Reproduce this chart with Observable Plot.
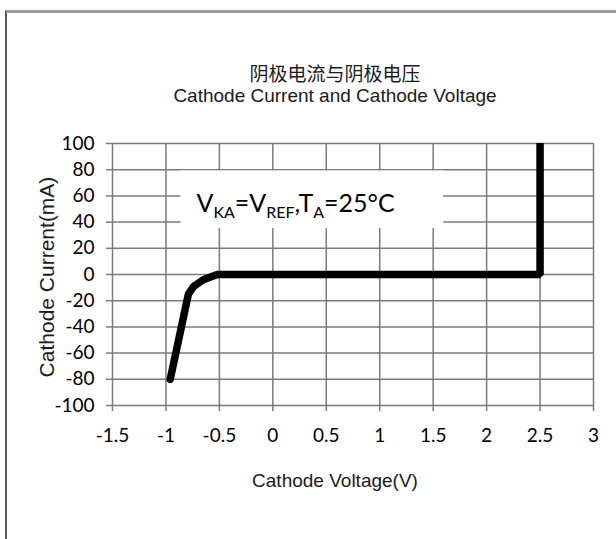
<!DOCTYPE html>
<html><head><meta charset="utf-8">
<script src="https://cdn.jsdelivr.net/npm/d3@7"></script>
<script src="https://cdn.jsdelivr.net/npm/@observablehq/plot@0.6"></script>
<style>
body{margin:0;background:#fff;width:616px;height:539px;overflow:hidden;position:relative;font-family:"Liberation Sans",Arial,sans-serif;color:#1a1a1a;}
#frame{position:absolute;left:5px;top:10px;width:700px;height:600px;border-top:3px solid #9a9a9a;border-left:2px solid #5a5a5a;box-sizing:border-box;}
.t{position:absolute;left:0;width:670px;text-align:center;line-height:1;white-space:nowrap;}
#zh{top:63px;font-family:"Noto Sans CJK SC",sans-serif;font-size:19px;}
#en{top:86px;font-size:19px;}
#xl{top:471px;font-size:19px;}
#yl{position:absolute;left:-104px;top:267px;width:300px;text-align:center;font-size:21px;line-height:1;white-space:nowrap;transform:rotate(-90deg);transform-origin:150px 10px;}
#chart{position:absolute;left:0;top:120px;}
</style></head>
<body>
<div id="frame"></div>
<div class="t" id="zh">阴极电流与阴极电压</div>
<div class="t" id="en">Cathode Current and Cathode Voltage</div>
<div id="chart"></div>
<div class="t" id="xl">Cathode Voltage(V)</div>
<div id="yl">Cathode Current(mA)</div>
<script>
const voltage = [-0.96, -0.79, -0.74, -0.65, -0.52, 2.5, 2.5];
const current = [-80, -15, -9, -4, 0, 0, 100];
const xTicks = [-1.5, -1, -0.5, 0, 0.5, 1, 1.5, 2, 2.5, 3];
const yTicks = [-100, -80, -60, -40, -20, 0, 20, 40, 60, 80, 100];
const noteBox = {x1: -0.86, x2: 1.6, y1: 35, y2: 79};
const noteAt = {x: -0.71, y: 47};

const data = voltage.map((v, i) => ({v, c: current[i]}));
const fmt = d => String(d);
const gridStyle = {stroke: "#7a7a7a", strokeOpacity: 1, strokeWidth: 1.5};

const plot = Plot.plot({
  width: 616, height: 340,
  marginLeft: 112, marginRight: 23, marginTop: 23, marginBottom: 55,
  style: {fontFamily: "Lato", fontSize: "19px", color: "#000", background: "transparent", overflow: "visible"},
  x: {domain: [-1.5, 3], label: null},
  y: {domain: [-100, 100], label: null},
  marks: [
    Plot.gridX(xTicks, gridStyle),
    Plot.gridY(yTicks, gridStyle),
    Plot.axisX(xTicks, {tickSize: 6, tickPadding: 17, stroke: "#7a7a7a", strokeWidth: 1.5, fill: "#000", tickFormat: fmt, label: null}),
    Plot.axisY(yTicks, {tickSize: 6, tickPadding: 12, stroke: "#7a7a7a", strokeWidth: 1.5, fill: "#000", tickFormat: fmt, label: null}),
    Plot.rect([noteBox], {x1: "x1", x2: "x2", y1: "y1", y2: "y2", fill: "#fff"}),
    Plot.line(data, {x: "v", y: "c", stroke: "#000", strokeWidth: 7.5, strokeLinejoin: "miter", strokeLinecap: "round", clip: true})
  ]
});
document.getElementById("chart").appendChild(plot);

const sx = plot.scale("x"), sy = plot.scale("y");
const txt = d3.select(plot).append("text")
  .attr("x", sx.apply(noteAt.x)).attr("y", sy.apply(noteAt.y))
  .attr("text-anchor", "start")
  .attr("font-family", "Lato").attr("font-size", 25).attr("fill", "#000");
const parts = [["V", 0], ["KA", 1], ["=V", 0], ["REF", 1], [",T", 0], ["A", 1], ["=25°C", 0]];
let prev = 0;
for (const [s, sub] of parts) {
  const off = sub ? 6 : 0;
  txt.append("tspan").attr("dy", off - prev).attr("font-size", sub ? 16 : 25).text(s);
  prev = off;
}
</script>
</body></html>
